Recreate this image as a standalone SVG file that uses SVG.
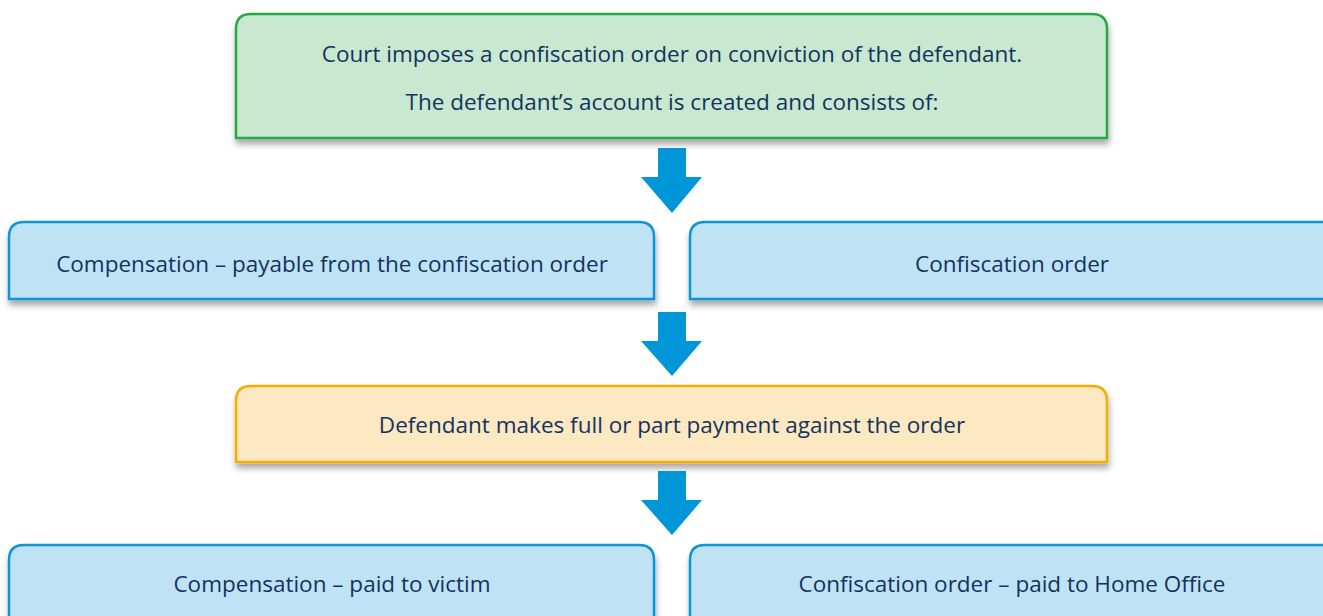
<svg xmlns="http://www.w3.org/2000/svg" width="1323" height="616" viewBox="0 0 1323 616">
  <defs>
    <filter id="shadow" x="-5%" y="-20%" width="110%" height="150%">
      <feDropShadow dx="1" dy="5" stdDeviation="3" flood-color="#000" flood-opacity="0.35"/>
    </filter>
  </defs>
  <style>
    .box { stroke-width: 2.5; filter: url(#shadow); }
    .green { fill: #c9e8d0; stroke: #2aa846; }
    .blue { fill: #bfe3f5; stroke: #0b95d5; }
    .yellow { fill: #fce8c1; stroke: #f6ad00; }
    .label { font-family: "Open Sans", "Noto Sans", sans-serif; font-size: 22.5px; fill: #14325e; text-anchor: middle; }
    .arrow { fill: #0096d7; }
  </style>
  <rect width="1323" height="616" fill="#ffffff"/>

  <g id="court-order">
    <path class="box green" d="M236,138 V29 Q236,14 251,14 H1092 Q1107,14 1107,29 V138 Z"/>
    <text class="label" x="672" y="62">Court imposes a confiscation order on conviction of the defendant.</text>
    <text class="label" x="672" y="110">The defendant’s account is created and consists of:</text>
  </g>

  <g id="compensation">
    <path class="box blue" d="M9,299 V237 Q9,222 24,222 H639 Q654,222 654,237 V299 Z"/>
    <text class="label" x="332" y="272">Compensation – payable from the confiscation order</text>
  </g>

  <g id="confiscation-order">
    <path class="box blue" d="M690,299 V237 Q690,222 705,222 H1330 V299 Z"/>
    <text class="label" x="1012" y="272">Confiscation order</text>
  </g>

  <g id="payment">
    <path class="box yellow" d="M236,462 V401 Q236,386 251,386 H1092 Q1107,386 1107,401 V462 Z"/>
    <text class="label" x="672" y="433">Defendant makes full or part payment against the order</text>
  </g>

  <g id="paid-to-victim">
    <path class="box blue" d="M9,630 V560 Q9,545 24,545 H639 Q654,545 654,560 V630 Z"/>
    <text class="label" x="332" y="592">Compensation – paid to victim</text>
  </g>

  <g id="paid-to-home-office">
    <path class="box blue" d="M690,630 V560 Q690,545 705,545 H1330 V630 Z"/>
    <text class="label" x="1012" y="592">Confiscation order – paid to Home Office</text>
  </g>

  <g id="connectors">
    <polygon class="arrow" points="658,148 686,148 686,177 702,177 672,213 641,177 658,177"/>
    <polygon class="arrow" points="658,312 686,312 686,341 702,341 672,376 641,341 658,341"/>
    <polygon class="arrow" points="658,471 686,471 686,500 702,500 672,535 641,500 658,500"/>
  </g>
</svg>
